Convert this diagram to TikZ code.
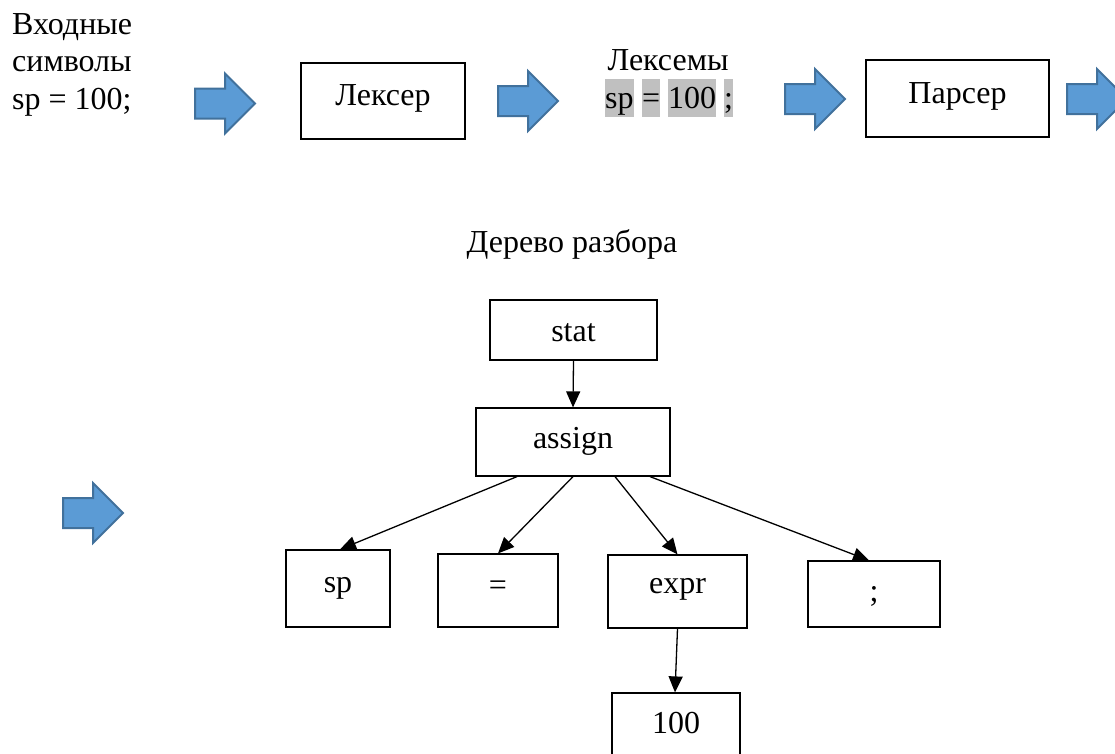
\documentclass[tikz,border=0pt]{standalone}
\usepackage{fontspec}
\setmainfont{Liberation Serif}
\usetikzlibrary{arrows.meta,calc}
\definecolor{arrfill}{HTML}{5B9BD5}
\definecolor{arrline}{HTML}{41719C}
\definecolor{hl}{HTML}{C0C0C0}
\tikzset{
  bigbox/.style={draw, line width=2.5pt, inner sep=0pt, text depth=0pt},
  tbox/.style={draw, line width=1.2pt, inner sep=0pt, text depth=0pt},
  tarrow/.style={line width=1.3pt, -{Triangle[length=16pt,width=14pt]}},
  tok/.style={fill=hl, inner sep=0pt, text height=29pt, text depth=9pt, anchor=base west},
  blockarrow/.pic={
    \draw[line width=2pt, draw=arrline, fill=arrfill, line join=miter]
      (0,-15) -- (30,-15) -- (30,-30) -- (60,0) -- (30,30) -- (30,15) -- (0,15) -- cycle;
  }
}
\begin{document}
\begin{tikzpicture}[x=1pt, y=-1pt, font=\fontsize{32}{37.5}\selectfont]
\useasboundingbox (0,0) rectangle (1115,753);
\clip (0,0) rectangle (1115,753);

% top row
\node[anchor=north west, align=left, inner sep=0pt] (inp) at (12,13) {Входные\\символы\\sp = 100;};
\pic at (195,103.5) {blockarrow};
\node[bigbox, minimum width=164pt, minimum height=76pt, text height=8pt] (lexer) at (383,101) {Лексер};
\pic at (498,101) {blockarrow};
\node[anchor=base, inner sep=0pt] (lexlabel) at (668,70) {Лексемы};
\node[tok] (t1) at (605,108) {sp};
\node[tok] (t2) at (642,108) {=};
\node[tok] (t3) at (668,108) {100};
\node[tok] (t4) at (724,108) {;};
\pic at (785,99) {blockarrow};
\node[bigbox, minimum width=183pt, minimum height=77pt, text height=9pt] (parser) at (957.5,98.5) {Парсер};
\pic at (1067,99) {blockarrow};

% tree
\node[anchor=base, inner sep=0pt] (treelabel) at (572,252) {Дерево разбора};
\pic at (63,513) {blockarrow};

\node[tbox, minimum width=167pt, minimum height=60pt, text height=22pt] (stat) at (573.5,330) {stat};
\node[tbox, minimum width=194pt, minimum height=68pt, text height=12pt] (assign) at (573,442) {assign};
\node[tbox, minimum width=104pt, minimum height=77pt, text height=7pt] (sp) at (338,588.5) {sp};
\node[tbox, minimum width=120pt, minimum height=73pt, text height=10pt] (eq) at (498,590.5) {=};
\node[tbox, minimum width=139pt, minimum height=73pt, text height=3pt] (expr) at (677.5,591.5) {expr};
\node[tbox, minimum width=132pt, minimum height=66pt, text height=14pt] (semi) at (874,594) {;};
\node[tbox, minimum width=128pt, minimum height=72pt, text height=8pt] (num) at (676,729) {100};

\draw[tarrow] (stat.south) -- (assign.north);
\draw[tarrow] ([xshift=-56pt]assign.south) -- ([xshift=2pt]sp.north);
\draw[tarrow] (assign.south) -- (eq.north);
\draw[tarrow] ([xshift=42pt]assign.south) -- (expr.north);
\draw[tarrow] ([xshift=77pt]assign.south) -- ([xshift=-5pt]semi.north);
\draw[tarrow] (expr.south) -- ([xshift=-1pt]num.north);
\end{tikzpicture}
\end{document}
